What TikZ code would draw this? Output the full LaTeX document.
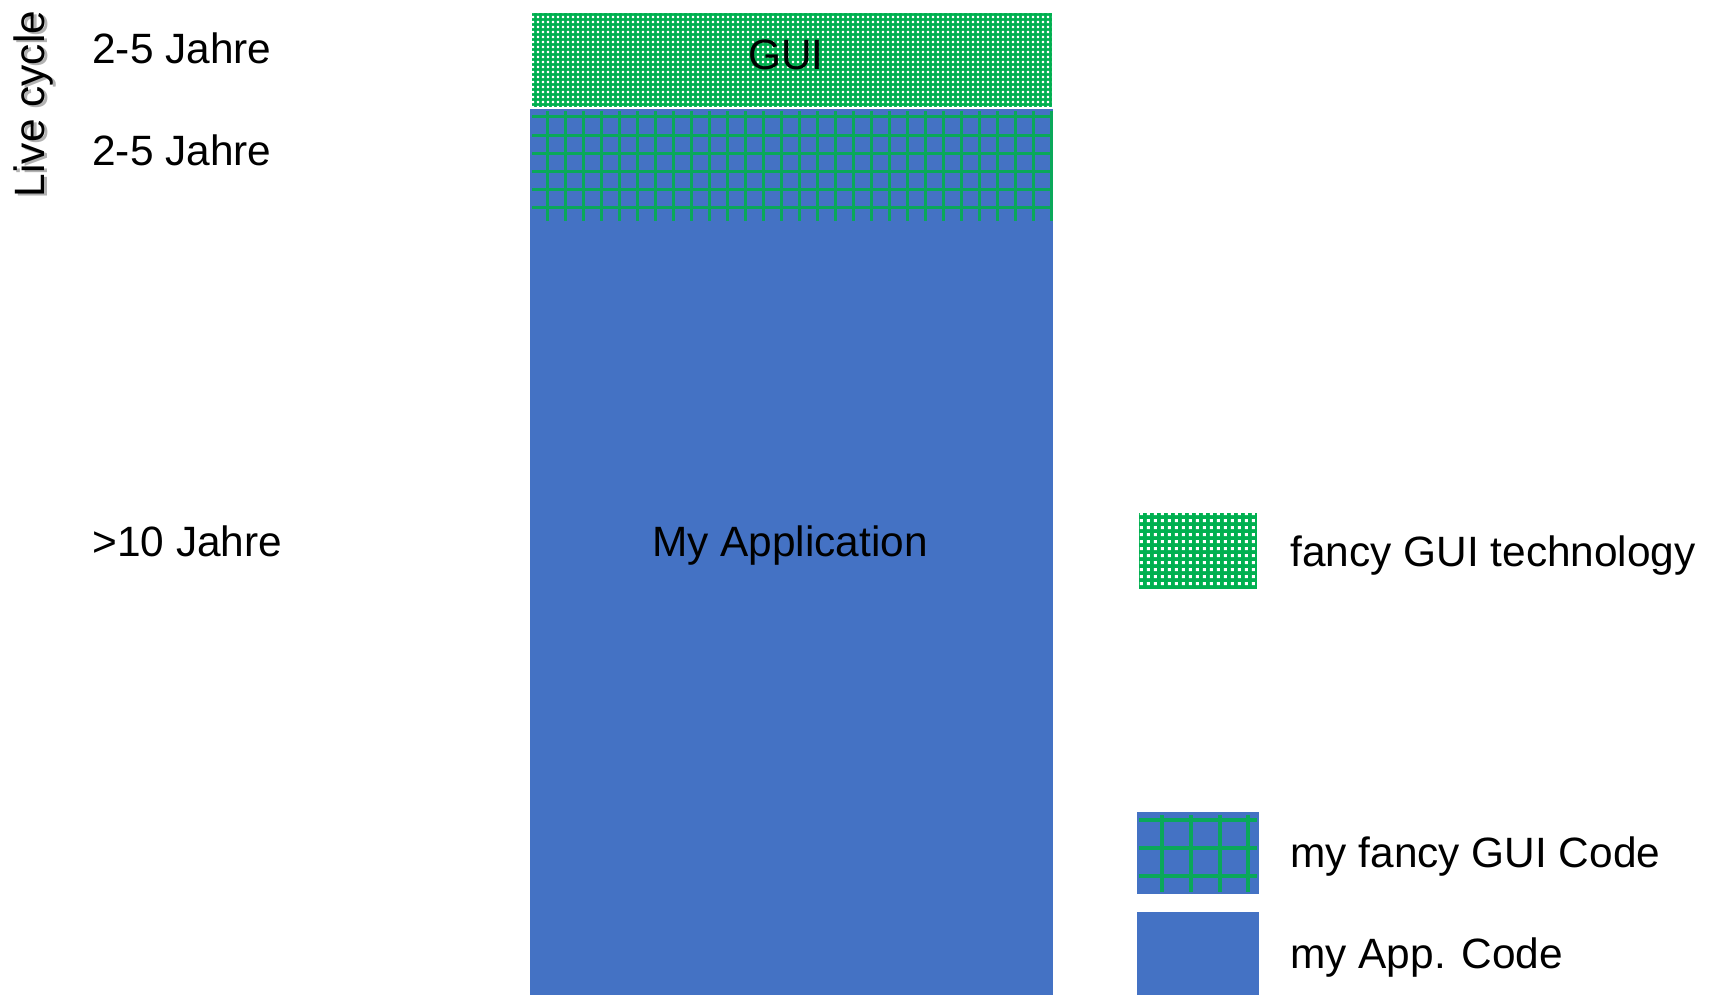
\documentclass[tikz,border=0pt]{standalone}
\usepackage{fontspec}
\setmainfont{Liberation Sans}
\usetikzlibrary{patterns}
\definecolor{appblue}{HTML}{4472C4}
\definecolor{guigreen}{HTML}{00B050}
\definecolor{gridgreen}{HTML}{0AA85A}
\pgfdeclarepatternformonly{finesq}{\pgfpoint{0pt}{0pt}}{\pgfpoint{2.25pt}{2.25pt}}{\pgfpoint{2.25pt}{2.25pt}}{%
  \pgfpathrectangle{\pgfpoint{0.5pt}{0.5pt}}{\pgfpoint{1.2pt}{1.2pt}}\pgfusepath{fill}}
\pgfdeclarepatternformonly{coarsesq}{\pgfpoint{0pt}{0pt}}{\pgfpoint{3.65pt}{3.65pt}}{\pgfpoint{3.65pt}{3.65pt}}{%
  \pgfpathrectangle{\pgfpoint{1pt}{1pt}}{\pgfpoint{1.6pt}{1.6pt}}\pgfusepath{fill}}
\tikzset{
  txt/.style={inner sep=0pt, font=\fontsize{21.2}{25}\selectfont},
  gridline/.style={draw=gridgreen, line width=1.5pt},
}
\begin{document}
\begin{tikzpicture}[x=0.5pt,y=-0.5pt]
\useasboundingbox (0,0) rectangle (1712,995);
% GUI box
\fill[guigreen] (532,13) rectangle (1052,107);
\fill[pattern=finesq, pattern color=white] (532,13) rectangle (1052,107);
% application box
\fill[appblue] (530,109) rectangle (1053,995);
\foreach \k in {0,...,28} \draw[gridline] ({547+18*\k},111) -- ({547+18*\k},221);
\foreach \k in {0,...,5} \draw[gridline] (532,{117+18*\k}) -- (1052,{117+18*\k});
% texts
\node[txt, anchor=base] (gui) at (786,70) {GUI};
\node[txt, anchor=base] (app) at (790,556) {My Application};
\node[txt, anchor=base west] (j1) at (92,64) {2-5 Jahre};
\node[txt, anchor=base west] (j2) at (92,165) {2-5 Jahre};
\node[txt, anchor=base west] (j3) at (92,556) {>10 Jahre};
\node[txt, rotate=90, text=black!30] (lcs) at (37,106) {Live cycle};
\node[txt, rotate=90] (lc) at (34,104) {Live cycle};
% legend
\fill[guigreen] (1139,513) rectangle (1257,589);
\fill[pattern=coarsesq, pattern color=white] (1139,513) rectangle (1257,589);
\node[txt, anchor=base west] (l1) at (1290,566) {fancy GUI technology};
\fill[appblue] (1137,812) rectangle (1259,894);
\foreach \x in {1162,1191,1220,1248} \draw[gridline, line width=1.7pt] (\x,815) -- (\x,892);
\foreach \y in {820,848,876} \draw[gridline, line width=1.7pt] (1139,\y) -- (1257,\y);
\node[txt, anchor=base west] (l2) at (1290,867) {my fancy GUI Code};
\fill[appblue] (1137,912) rectangle (1259,995);
\node[txt, anchor=base west] (l3) at (1290,968) {my App. Code};
\end{tikzpicture}
\end{document}
